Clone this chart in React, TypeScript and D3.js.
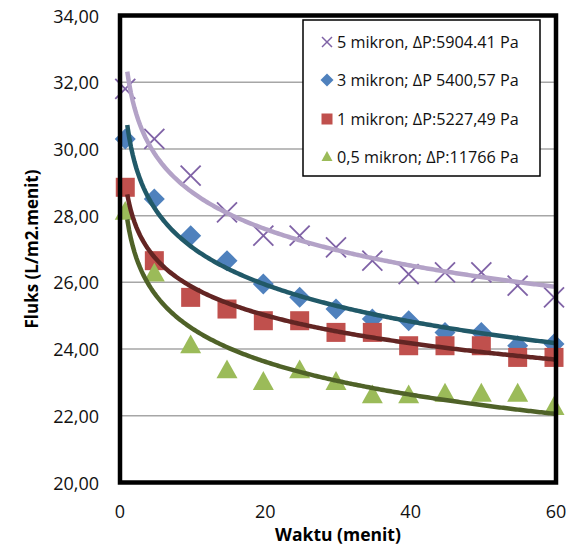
import React from "react";
import * as d3 from "d3";

const times = [1, 5, 10, 15, 20, 25, 30, 35, 40, 45, 50, 55, 60];
const flux5 = [31.8, 30.3, 29.2, 28.1, 27.4, 27.4, 27.05, 26.65, 26.25, 26.3, 26.3, 25.9, 25.55];
const flux3 = [30.3, 28.5, 27.4, 26.65, 25.95, 25.55, 25.2, 24.9, 24.85, 24.5, 24.5, 24.1, 24.15];
const flux1 = [28.85, 26.65, 25.55, 25.2, 24.85, 24.85, 24.5, 24.5, 24.1, 24.1, 24.1, 23.75, 23.75];
const flux05 = [28.1, 26.25, 24.1, 23.35, 23.0, 23.35, 23.0, 22.6, 22.6, 22.65, 22.65, 22.65, 22.25];

const seriesNames = [
  "5 mikron, ΔP:5904.41 Pa",
  "3 mikron; ΔP 5400,57 Pa",
  "1 mikron; ΔP:5227,49 Pa",
  "0,5 mikron; ΔP:11766 Pa",
];
const yTicks = [20, 22, 24, 26, 28, 30, 32, 34];
const xTicks = [0, 20, 40, 60];

const W = 578;
const H = 545;
const M = { left: 120, right: 556, top: 15.5, bottom: 482.5 };
const FONT = "'Open Sans', 'Noto Sans', sans-serif";

function logFit(xs: number[], ys: number[]) {
  const lx = xs.map((v) => Math.log(v));
  const mx = d3.mean(lx) as number;
  const my = d3.mean(ys) as number;
  let num = 0, den = 0;
  lx.forEach((v, i) => {
    num += (v - mx) * (ys[i] - my);
    den += (v - mx) * (v - mx);
  });
  const a = num / den;
  const b = my - a * mx;
  return (x: number) => a * Math.log(x) + b;
}

type Kind = "x" | "diamond" | "square" | "triangle";

function Marker({ kind, cx, cy, s, color }: { kind: Kind; cx: number; cy: number; s: number; color: string }) {
  const h = s / 2;
  if (kind === "x") {
    return (
      <g stroke={color} strokeWidth={s > 12 ? 1.8 : 1.5} fill="none">
        <line x1={cx - h} y1={cy - h} x2={cx + h} y2={cy + h} />
        <line x1={cx - h} y1={cy + h} x2={cx + h} y2={cy - h} />
      </g>
    );
  }
  if (kind === "diamond") {
    return <path d={`M${cx},${cy - h}L${cx + h},${cy}L${cx},${cy + h}L${cx - h},${cy}Z`} fill={color} />;
  }
  if (kind === "square") {
    return <rect x={cx - h} y={cy - h} width={s} height={s} fill={color} />;
  }
  const th = s * 0.9;
  return (
    <path
      d={`M${cx},${cy - th * 0.6}L${cx + h},${cy + th * 0.4}L${cx - h},${cy + th * 0.4}Z`}
      fill={color}
    />
  );
}

export default function App() {
  const x = d3.scaleLinear().domain([0, 60]).range([M.left, M.right]);
  const y = d3.scaleLinear().domain([20, 34]).range([M.bottom, M.top]);

  const series = [
    { name: seriesNames[0], data: flux5, kind: "x" as Kind, color: "#7F62A6", trend: "#B3A2C7", size: 20 },
    { name: seriesNames[1], data: flux3, kind: "diamond" as Kind, color: "#4F81BD", trend: "#215968", size: 21 },
    { name: seriesNames[2], data: flux1, kind: "square" as Kind, color: "#C0504D", trend: "#632523", size: 19 },
    { name: seriesNames[3], data: flux05, kind: "triangle" as Kind, color: "#9BBB59", trend: "#4F6228", size: 21 },
  ];

  const line = d3
    .line<number>()
    .x((d) => x(d[0]))
    .y((d) => y(d[1]));

  const samples = d3.range(1, 60.001, 0.25);

  const legendX = 303;
  const legendY = 20;
  const legendW = 237;
  const legendH = 156;
  const legendRows = [42, 80, 119, 157];

  return (
    <svg width={W} height={H} style={{ position: "absolute", left: 0, top: 0 }}>
      <rect x={0} y={0} width={W} height={H} fill="#fff" />
      {/* gridlines */}
      {yTicks.slice(1, -1).map((t) => (
        <line key={t} x1={M.left} x2={M.right} y1={y(t)} y2={y(t)} stroke="#A6A6A6" strokeWidth={1.5} />
      ))}
      {/* markers */}
      {series.map((s, si) => (
        <g key={si}>
          {s.data.map((v, i) => (
            <Marker key={i} kind={s.kind} cx={x(times[i]) - 2} cy={y(v)} s={s.size} color={s.color} />
          ))}
        </g>
      ))}
      {/* trendlines */}
      {series.map((s, si) => {
        const f = logFit(times, s.data);
        const pts = samples.map((t) => [t, f(t)] as any);
        return <path key={si} d={line(pts) as string} fill="none" stroke={s.trend} strokeWidth={4.5} />;
      })}
      {/* border */}
      <rect
        x={M.left}
        y={M.top}
        width={M.right - M.left}
        height={M.bottom - M.top}
        fill="none"
        stroke="#000"
        strokeWidth={4.5}
      />
      {/* y ticks */}
      {yTicks.map((t) => (
        <text
          key={t}
          x={99}
          y={y(t)}
          textAnchor="end"
          dominantBaseline="central"
          fontFamily={FONT}
          fontSize={18}
          fill="#111"
        >
          {d3.format(".2f")(t).replace(".", ",")}
        </text>
      ))}
      {/* x ticks */}
      {xTicks.map((t) => (
        <text
          key={t}
          x={x(t)}
          y={511}
          textAnchor="middle"
          dominantBaseline="central"
          fontFamily={FONT}
          fontSize={18}
          fill="#111"
        >
          {t}
        </text>
      ))}
      <text
        x={(M.left + M.right) / 2}
        y={534}
        textAnchor="middle"
        dominantBaseline="central"
        fontFamily={FONT}
        fontWeight="bold"
        fontSize={17.5}
        fill="#000"
      >
        Waktu (menit)
      </text>
      <text
        transform={`translate(31,${(M.top + M.bottom) / 2}) rotate(-90)`}
        textAnchor="middle"
        dominantBaseline="central"
        fontFamily={FONT}
        fontWeight="bold"
        fontSize={17}
        fill="#000"
      >
        Fluks (L/m2.menit)
      </text>
      {/* legend */}
      <rect x={legendX} y={legendY} width={legendW} height={legendH} fill="#fff" stroke="#000" strokeWidth={1.5} />
      {series.map((s, i) => (
        <g key={i}>
          <Marker kind={s.kind} cx={327} cy={legendRows[i]} s={s.kind === "diamond" ? 13 : s.kind === "x" ? 10 : 11} color={s.color} />
          <text
            x={337}
            y={legendRows[i]}
            dominantBaseline="central"
            fontFamily={FONT}
            fontSize={16.2}
            fill="#111"
          >
            {s.name}
          </text>
        </g>
      ))}
    </svg>
  );
}
